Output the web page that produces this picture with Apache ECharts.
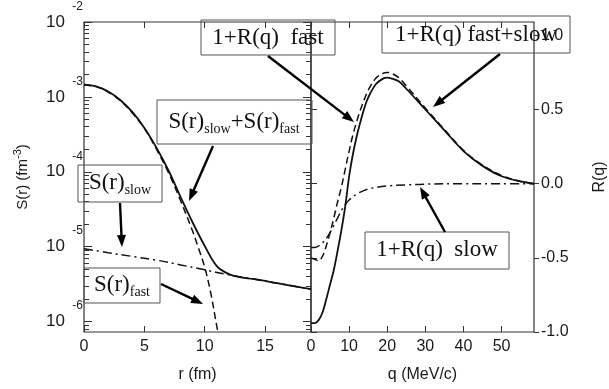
<!DOCTYPE html>
<html><head><meta charset="utf-8">
<script src="https://cdn.jsdelivr.net/npm/echarts@6/dist/echarts.min.js"></script>
<style>html,body{margin:0;padding:0;background:#fff}#c{width:609px;height:389px}</style>
</head><body><div id="c"></div>
<script>
// ---- Left panel: S(r), log scale ----
const rTot = [0,1,2,3,4,5,6,7,8,9,10,11,12,13,14,16,18.8];
const sTot = [1.46e-3,1.38e-3,1.18e-3,9.1e-4,6.3e-4,3.85e-4,2.1e-4,1.04e-4,4.6e-5,2.1e-5,1.02e-5,5.5e-6,4.3e-6,3.9e-6,3.7e-6,3.25e-6,2.7e-6];
const rFast = [0,1,2,3,4,5,6,7,8,9,9.5,10,10.5,11,11.4];
const sFast = [1.44e-3,1.37e-3,1.16e-3,8.9e-4,6.1e-4,3.8e-4,2.0e-4,9.7e-5,4.1e-5,1.6e-5,9.4e-6,5.3e-6,2.4e-6,8.6e-7,3.9e-7];
const rSlow = [0,2,4,6,8,10,12,14,16,18.8];
const sSlow = [9.4e-6,8.3e-6,7.4e-6,6.6e-6,5.7e-6,4.9e-6,4.2e-6,3.7e-6,3.25e-6,2.7e-6];

// ---- Right panel: R(q) ----
const qTot = [0,1,2,3,4,5,6,7,8,9,10,11,12,13,14,15,17,19,20,21,23,25,30,35,40,45,50,55,58.5];
const RTot = [-0.94,-0.94,-0.92,-0.87,-0.78,-0.68,-0.58,-0.45,-0.31,-0.15,0.05,0.20,0.32,0.42,0.51,0.58,0.67,0.71,0.715,0.71,0.69,0.64,0.50,0.36,0.22,0.12,0.05,0.015,0.0];
const qFast = [0,1,2,3,4,5,6,7,8,9,10,11,12,13,14,15,17,19,20,21,23,25,30,35,40,45,50,55,58.5];
const RFast = [-0.50,-0.51,-0.52,-0.49,-0.42,-0.33,-0.23,-0.12,-0.02,0.10,0.22,0.33,0.42,0.50,0.57,0.63,0.71,0.745,0.75,0.745,0.715,0.66,0.51,0.365,0.225,0.125,0.055,0.015,0.0];
const qSlow = [0,1,2,3,4,5,6,7,8,9,10,12,14,16,20,25,30,40,50,58.5];
const RSlow = [-0.43,-0.43,-0.42,-0.40,-0.37,-0.33,-0.28,-0.23,-0.18,-0.14,-0.11,-0.07,-0.045,-0.03,-0.015,-0.008,-0.003,0,0,0];

// ---- Tick labels ----
const rTicks = [0,5,10,15];
const qTicks = [0,10,20,30,40,50];
const sExpTicks = [-6,-5,-4,-3,-2];
const RTicks = [-1,-0.5,0,0.5,1];

const expMin = -6.14, expMax = -2;
const minorExp = [];
for (let k = -7; k <= -3; k++) for (let m = 2; m <= 9; m++) {
  const e = k + Math.log10(m);
  if (e > expMin && e < expMax) minorExp.push(e);
}
const zip = (a,b) => a.map((v,i)=>[v,b[i]]);
const frame = '#333';
const sans = 'Liberation Sans, Arial, Helvetica, sans-serif';
const serif = 'Liberation Serif, Times New Roman, serif';
const tickLab = {fontFamily:sans, fontSize:16, color:'#1a1a1a'};
const noLine = {show:false, onZero:false};

const chart = echarts.init(document.getElementById('c'));
const grids = [
  {left:84, top:22, width:227, height:310, show:true, borderColor:frame, borderWidth:1.2, backgroundColor:'transparent'},
  {left:311, top:22, width:226, height:310, show:true, borderColor:frame, borderWidth:1.2, backgroundColor:'transparent'}
];
function xAx(grid, min, max, ticks, pos, labels, name){
  return {gridIndex:grid, type:'value', min:min, max:max, position:pos,
    axisLine:noLine, splitLine:{show:false},
    axisTick:{show:true, inside:true, length:6, customValues:ticks, lineStyle:{color:frame, width:1}},
    axisLabel:{show:labels, customValues:ticks, margin:7, ...tickLab},
    name: name||'', nameLocation:'middle', nameGap:35,
    nameTextStyle:{fontFamily:sans, fontSize:16, color:'#1a1a1a'}};
}
function yExp(pos, ticks, len, labels){
  return {gridIndex:0, type:'value', min:expMin, max:expMax, position:pos,
    axisLine:noLine, splitLine:{show:false},
    axisTick:{show:true, inside:true, length:len, customValues:ticks, lineStyle:{color:frame, width:1}},
    axisLabel:{show:labels, customValues:ticks, margin:1,
      formatter: v => '{e|' + Math.round(v) + '}\n{b|10}',
      padding:[0,0,15,0],
      rich:{e:{fontFamily:sans, fontSize:12, lineHeight:15, color:'#1a1a1a'},
            b:{fontFamily:sans, fontSize:17, lineHeight:16, color:'#1a1a1a', padding:[0,18,0,0]}}}};
}
const yLeftMain = yExp('left', sExpTicks, 8, true);
yLeftMain.name = 'S(r) (fm{sup|-3})';
yLeftMain.nameLocation = 'middle';
yLeftMain.nameGap = 50;
yLeftMain.nameTextStyle = {fontFamily:sans, fontSize:15, color:'#1a1a1a', lineHeight:22,
  rich:{sup:{fontFamily:sans, fontSize:11, lineHeight:11, verticalAlign:'top', color:'#1a1a1a'}}};

const option = {
  animation:false,
  backgroundColor:'#fff',
  grid: grids,
  xAxis: [
    xAx(0, 0, 18.8, rTicks, 'bottom', true, 'r (fm)'),
    xAx(0, 0, 18.8, rTicks, 'top', false),
    xAx(1, 0, 58.5, qTicks, 'bottom', true, 'q (MeV/c)'),
    xAx(1, 0, 58.5, qTicks, 'top', false)
  ],
  yAxis: [
    {gridIndex:0, type:'log', logBase:10, min:Math.pow(10,expMin), max:Math.pow(10,expMax), show:false, axisLine:noLine, splitLine:{show:false}},
    yLeftMain,
    yExp('left', minorExp, 5, false),
    yExp('right', sExpTicks, 8, false),
    yExp('right', minorExp, 5, false),
    {gridIndex:1, type:'value', min:-1, max:1.09, position:'right',
      axisLine:noLine, splitLine:{show:false},
      axisTick:{show:true, inside:false, length:5, customValues:RTicks, lineStyle:{color:frame, width:1}},
      axisLabel:{customValues:RTicks, margin:7, formatter:v=>v.toFixed(1), ...tickLab},
      name:'R(q)', nameLocation:'middle', nameRotate:90, nameGap:58,
      nameTextStyle:{fontFamily:sans, fontSize:16, color:'#1a1a1a'}},
    {gridIndex:1, type:'value', min:-1, max:1.09, position:'left',
      axisLine:noLine, splitLine:{show:false},
      axisTick:{show:true, inside:true, length:6, customValues:RTicks, lineStyle:{color:frame, width:1}},
      axisLabel:{show:false}}
  ],
  series: [
    {type:'line', xAxisIndex:0, yAxisIndex:0, data:zip(rTot,sTot), smooth:0.35, showSymbol:false, clip:true,
      lineStyle:{color:'#111', width:1.8}},
    {type:'line', xAxisIndex:0, yAxisIndex:0, data:zip(rFast,sFast), smooth:0.35, showSymbol:false, clip:true,
      lineStyle:{color:'#111', width:1.5, type:[7,4]}},
    {type:'line', xAxisIndex:0, yAxisIndex:0, data:zip(rSlow,sSlow), smooth:0.35, showSymbol:false, clip:true,
      lineStyle:{color:'#111', width:1.5, type:[9,4,2,4]}},
    {type:'line', xAxisIndex:2, yAxisIndex:5, data:zip(qTot,RTot), smooth:0.35, showSymbol:false, clip:true,
      lineStyle:{color:'#111', width:1.8}},
    {type:'line', xAxisIndex:2, yAxisIndex:5, data:zip(qFast,RFast), smooth:0.35, showSymbol:false, clip:true,
      lineStyle:{color:'#111', width:1.5, type:[7,4]}},
    {type:'line', xAxisIndex:2, yAxisIndex:5, data:zip(qSlow,RSlow), smooth:0.35, showSymbol:false, clip:true,
      lineStyle:{color:'#111', width:1.5, type:[9,4,2,4]}}
  ]
};
chart.setOption(option);

// ---- Annotations ----
function box(x,y,w,h){
  return {type:'rect', z:100, shape:{x:x, y:y, width:w, height:h}, style:{fill:null, stroke:'#555', lineWidth:1}};
}
function label(x,y,text){
  return {type:'text', z:101, x:x, y:y, style:{text:text, fill:'#111', font:'23px ' + serif,
    align:'center', verticalAlign:'middle',
    rich:{m:{fontFamily:serif, fontSize:23, lineHeight:28}, s:{fontFamily:serif, fontSize:14, lineHeight:14, verticalAlign:'bottom', padding:[0,0,0,0]}}}};
}
function arrow(x1,y1,x2,y2){
  const dx=x2-x1, dy=y2-y1, L=Math.hypot(dx,dy), ux=dx/L, uy=dy/L;
  const hl=12, hw=9;
  const bx=x2-ux*hl, by=y2-uy*hl;
  return [
    {type:'line', z:102, shape:{x1:x1,y1:y1,x2:bx+ux*2,y2:by+uy*2}, style:{stroke:'#000', lineWidth:2.4}},
    {type:'polygon', z:102, shape:{points:[[x2,y2],[bx-uy*hw/2,by+ux*hw/2],[bx+uy*hw/2,by-ux*hw/2]]}, style:{fill:'#000'}}
  ];
}
const g = [];
g.push(box(157,100,155,44), label(234,122,'{m|S(r)}{s|slow}{m|+S(r)}{s|fast}'));
g.push(box(78,165,84,37), label(120,183,'{m|S(r)}{s|slow}'));
g.push(box(84,268,76,35), label(122,285,'{m|S(r)}{s|fast}'));
g.push(box(201,20,134,35), label(268,38,'1+R(q)  fast'));
g.push(box(382,16,188,37), label(476,35,'1+R(q) fast+slow'));
g.push(box(365,232,144,37), label(437,250,'1+R(q)  slow'));
g.push(...arrow(213,146,189,201));
g.push(...arrow(120,203,122,247));
g.push(...arrow(161,284,203,304));
g.push(...arrow(268,56,354,122));
g.push(...arrow(500,54,433,107));
g.push(...arrow(445,232,420,187));
chart.setOption({graphic:{elements:g}});
</script>
</body></html>
